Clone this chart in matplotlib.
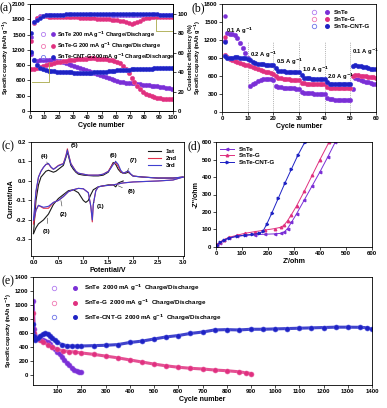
import numpy as np
import matplotlib
matplotlib.use("Agg")
import matplotlib.pyplot as plt
from matplotlib.legend_handler import HandlerTuple
from matplotlib.lines import Line2D

plt.rcParams['font.family'] = ['Liberation Sans', 'DejaVu Sans']
plt.rcParams['font.weight'] = 'bold'
plt.rcParams['axes.linewidth'] = 0.6

# ---------------- data ----------------
materials = ["SnTe", "SnTe-G", "SnTe-CNT-G"]
col_fill = ["#7A2FD6", "#E0307F", "#1E22C4"]
col_open = ["#B27CF0", "#F07AB4", "#6E74E8"]

# (a) cycling at 200 mA/g, every second cycle
a_cycles = list(range(1, 100, 2))
a_snte = [1120, 1000, 990, 1000, 1000, 1005, 1010, 1005, 1000, 990, 975, 960, 940, 920, 900,
          880, 860, 840, 820, 800, 780, 760, 740, 720, 700, 680, 660, 640, 620, 600,
          585, 575, 565, 558, 550, 545, 540, 535, 528, 520, 512, 505, 498, 490, 482,
          475, 465, 455, 445, 435]
a_sntg = [820, 830, 850, 870, 885, 900, 915, 930, 945, 955, 965, 975, 985, 995, 1000,
          1010, 1015, 1020, 1025, 1030, 1035, 1035, 1035, 1030, 1030, 1025, 1020, 1010, 1000, 990,
          970, 940, 890, 820, 740, 650, 570, 500, 440, 380, 340, 310, 290, 275, 262,
          252, 245, 240, 235, 232]
a_cnt = [1150, 1000, 900, 850, 820, 800, 790, 785, 780, 775, 770, 768, 765, 762, 760,
         755, 750, 748, 745, 745, 748, 752, 756, 760, 765, 770, 775, 780, 785, 790,
         795, 800, 805, 808, 812, 815, 818, 820, 822, 825, 828, 830, 832, 835, 838,
         840, 842, 845, 848, 850]
a_ce_snte = [76, 92, 96, 97.5, 98, 98.5, 98.5, 99, 99, 99, 99, 99, 99, 99, 99,
             99, 99, 99, 99, 99, 99, 99, 99, 99, 99, 99, 99, 99, 99, 99,
             99, 99, 99, 99, 99, 99, 99, 99, 99, 99, 99, 99, 99, 99, 99,
             99, 99, 99, 99, 99]
a_ce_sntg = [72, 90, 96, 97, 97.5, 97.5, 97, 97, 97, 97, 97, 97, 97, 97, 96.5,
             96.5, 96.5, 96, 96, 96, 96, 95.5, 95.5, 95, 95, 95, 95, 94.5, 94, 94,
             93.5, 93, 92.5, 91.5, 90.5, 89.5, 90, 91.5, 93, 94.5, 95.5, 96, 96.5, 96.5, 97,
             97, 97, 97, 97, 97]
a_ce_cnt = [80, 91, 94, 96, 97.5, 98.5, 99, 99, 99, 99, 99, 99, 99.5, 99.5, 99.5,
            99.5, 99.5, 99.5, 99.5, 99.5, 99.5, 99.5, 99.5, 99.5, 99.5, 99.5, 99.5, 99.5, 99.5, 99.5,
            99.5, 99.5, 99.5, 99.5, 99.5, 99.5, 99.5, 99.5, 99.5, 99.5, 99.5, 99.5, 99.5, 99.5, 99.5,
            99, 99, 99, 99, 99]

# (b) rate performance
b_cycles = list(range(1, 61))
b_snte = [1180, 1310, 1300, 1300, 1280, 1230, 1150, 1060, 980, 900,
          440, 460, 490, 510, 530, 545, 550, 552, 548, 540,
          430, 415, 410, 405, 400, 398, 395, 392, 390, 385,
          330, 318, 315, 312, 310, 308, 306, 305, 303, 300,
          240, 215, 210, 208, 206, 205, 204, 203, 202, 200,
          380, 560, 545, 530, 515, 505, 495, 485, 475, 465]
b_sntg = [950, 910, 890, 870, 850, 830, 815, 800, 790, 780,
          760, 745, 730, 715, 700, 690, 675, 665, 650, 640,
          600, 570, 560, 555, 550, 545, 540, 538, 535, 530,
          490, 480, 475, 472, 470, 468, 465, 463, 462, 460,
          420, 405, 402, 400, 400, 400, 400, 400, 400, 400,
          600, 620, 615, 605, 600, 595, 590, 585, 580, 575]
b_cnt = [930, 900, 900, 905, 910, 910, 905, 900, 895, 885,
         870, 830, 815, 805, 800, 795, 790, 785, 782, 780,
         730, 690, 680, 678, 675, 673, 672, 671, 670, 668,
         610, 575, 565, 560, 558, 556, 555, 553, 552, 550,
         500, 470, 462, 460, 460, 460, 460, 460, 460, 460,
         760, 780, 775, 765, 755, 745, 735, 725, 718, 710]
b_first_discharge = [1600, 1250, 1170]
b_rates = ["0.1 A g$^{-1}$", "0.2 A g$^{-1}$", "0.5 A g$^{-1}$", "1.0 A g$^{-1}$", "2.0 A g$^{-1}$", "0.1 A g$^{-1}$"]

# (c) cyclic voltammetry
cv_up_v = [0.0, 0.05, 0.1, 0.15, 0.2, 0.25, 0.3, 0.35, 0.4, 0.45, 0.5, 0.55, 0.6, 0.65, 0.68, 0.7,
           0.75, 0.8, 0.85, 0.9, 1.0, 1.1, 1.2, 1.3, 1.4, 1.5, 1.55, 1.6, 1.65, 1.7, 1.75, 1.8,
           1.85, 1.9, 1.95, 2.0, 2.2, 2.5, 2.8, 3.0]
cv_up_1 = [-0.27, -0.1, -0.02, 0.02, 0.035, 0.05, 0.055, 0.05, 0.045, 0.05, 0.06, 0.07, 0.08, 0.12, 0.15, 0.13,
           0.08, 0.06, 0.045, 0.035, 0.03, 0.028, 0.026, 0.026, 0.03, 0.045, 0.07, 0.095, 0.085, 0.06, 0.045, 0.04,
           0.04, 0.045, 0.035, 0.025, 0.02, 0.015, 0.015, 0.02]
cv_up_2 = [-0.22, -0.06, 0.02, 0.05, 0.07, 0.085, 0.088, 0.07, 0.06, 0.07, 0.08, 0.085, 0.09, 0.13, 0.165, 0.14,
           0.09, 0.07, 0.05, 0.04, 0.035, 0.03, 0.03, 0.03, 0.035, 0.05, 0.07, 0.09, 0.095, 0.075, 0.05, 0.04,
           0.045, 0.05, 0.035, 0.025, 0.02, 0.015, 0.015, 0.02]
cv_up_3 = [-0.2, -0.05, 0.02, 0.05, 0.07, 0.085, 0.09, 0.072, 0.06, 0.068, 0.078, 0.083, 0.088, 0.125, 0.158, 0.138,
           0.088, 0.068, 0.05, 0.04, 0.035, 0.03, 0.03, 0.03, 0.035, 0.048, 0.065, 0.085, 0.1, 0.085, 0.055, 0.04,
           0.045, 0.052, 0.036, 0.025, 0.02, 0.015, 0.015, 0.02]
cv_dn_v = [3.0, 2.8, 2.5, 2.0, 1.8, 1.6, 1.4, 1.3, 1.25, 1.2, 1.18, 1.15, 1.1, 1.0, 0.9, 0.8,
           0.7, 0.6, 0.5, 0.4, 0.3, 0.2, 0.1, 0.05, 0.0]
cv_dn_2 = [0.02, 0.005, 0.0, -0.005, -0.01, -0.02, -0.025, -0.03, -0.05, -0.12, -0.21, -0.13, -0.06, -0.04, -0.038, -0.045,
           -0.055, -0.08, -0.1, -0.11, -0.14, -0.14, -0.125, -0.15, -0.22]
cv_dn_3 = [0.02, 0.005, 0.0, -0.005, -0.01, -0.02, -0.025, -0.03, -0.05, -0.12, -0.2, -0.13, -0.06, -0.04, -0.038, -0.045,
           -0.055, -0.08, -0.1, -0.11, -0.13, -0.135, -0.125, -0.15, -0.2]
cv_dn1_v = [1.8, 1.7, 1.65, 1.6, 1.5, 1.4, 1.3, 1.2, 1.15, 1.1, 1.05, 1.0, 0.95, 0.9, 0.8, 0.7, 0.6, 0.5,
            0.4, 0.3, 0.2, 0.1, 0.05, 0.0]
cv_dn_1 = [0.0, -0.01, -0.03, -0.02, -0.02, -0.025, -0.03, -0.045, -0.07, -0.1, -0.11, -0.1, -0.08, -0.06, -0.045, -0.05,
           -0.07, -0.09, -0.12, -0.17, -0.2, -0.22, -0.24, -0.27]
cv_labels = ["1st", "2nd", "3rd"]
cv_colors = ["#1a1a1a", "#E0304A", "#4040D0"]

# (d) Nyquist plots
d_snte_x = [0, 5, 15, 30, 50, 80, 110, 150, 190, 225, 250, 262, 275, 290, 310, 340, 370, 400, 430, 459]
d_snte_y = [0, 12, 25, 38, 50, 60, 66, 70, 73, 75, 78, 85, 105, 140, 190, 270, 350, 430, 515, 600]
d_sntg_x = [0, 5, 15, 30, 50, 80, 110, 150, 190, 225, 250, 262, 275, 290, 310, 340, 370, 400, 435]
d_sntg_y = [0, 15, 28, 42, 55, 67, 78, 88, 97, 105, 113, 125, 150, 185, 235, 320, 410, 500, 600]
d_cnt_x = [0, 5, 15, 30, 50, 80, 110, 140, 165, 180, 195, 215, 240, 265, 290, 315, 342]
d_cnt_y = [0, 12, 26, 40, 52, 62, 68, 72, 78, 89, 130, 195, 280, 365, 445, 525, 600]

# (e) long cycling at 2000 mA/g
e_snte_x = [1, 5, 10, 20, 30, 40, 50, 60, 70, 80, 90, 100, 110, 120, 130, 140, 150, 160, 170, 180, 190, 200]
e_snte_y = [1060, 650, 560, 520, 510, 500, 485, 460, 435, 400, 370, 330, 290, 250, 210, 170, 135, 100, 70, 50, 38, 30]
e_sntg_x = [1, 5, 10, 20, 30, 40, 60, 80, 100, 125, 150, 175, 200, 250, 300, 350, 400, 450, 500, 550,
            600, 650, 700, 750, 800, 850, 880, 900]
e_sntg_y = [880, 600, 540, 510, 490, 470, 430, 390, 360, 340, 330, 322, 310, 290, 265, 240, 210, 180, 150, 125,
            105, 90, 80, 65, 55, 40, 25, 15]
e_cnt_x = [1, 5, 10, 20, 30, 40, 50, 60, 70, 80, 90, 100, 120, 140, 160, 180, 200, 250, 300, 350,
           400, 450, 500, 550, 600, 650, 700, 750, 800, 850, 900, 950, 1000, 1050, 1100, 1150, 1200,
           1250, 1300, 1350, 1380, 1400]
e_cnt_y = [720, 550, 500, 520, 560, 580, 590, 575, 550, 520, 490, 460, 430, 415, 408, 410, 410, 415, 420, 430,
           460, 480, 510, 540, 560, 590, 610, 640, 645, 640, 650, 650, 655, 660, 665, 670, 675,
           680, 680, 678, 672, 650]

# ---------------- figure ----------------
W, H = 387, 408
fig = plt.figure(figsize=(W / 100, H / 100), dpi=100)


def rect(l, t, r, b):
    return [l / W, 1 - b / H, (r - l) / W, (b - t) / H]


TFS = 4.3
LFS = 5.0
YFS = 4.0


def style(ax):
    ax.tick_params(labelsize=TFS, width=0.5, length=2, direction='out', pad=1.2)
    for lab in ax.get_xticklabels() + ax.get_yticklabels():
        lab.set_fontweight('bold')


def panel_label(x, y, s):
    fig.text(x / W, 1 - y / H, s, fontsize=8.5, family=['Liberation Serif', 'DejaVu Serif'],
             fontweight='normal', va='top', ha='left')


def open_fill_handle(i, ms=3.2):
    h1 = Line2D([], [], ls='none', marker='o', mfc='none', mec=col_open[i], mew=0.6, ms=ms)
    h2 = Line2D([], [], ls='none', marker='o', mfc=col_fill[i], mec=col_fill[i], ms=ms * 0.8)
    return (h1, h2)


# ---- (a)
ax = fig.add_axes(rect(30, 4, 173, 111))
a_caps = [a_snte, a_sntg, a_cnt]
a_ces = [a_ce_snte, a_ce_sntg, a_ce_cnt]
ax2 = ax.twinx()
for i in range(3):
    ax.plot(a_cycles, a_caps[i], ls='none', marker='o', mfc='none', mec=col_open[i], mew=0.5, ms=3.2)
    ax.plot(a_cycles, a_caps[i], ls='none', marker='o', color=col_fill[i], ms=2.2)
    ax2.plot(a_cycles, a_ces[i], ls='none', marker='o', mfc='none', mec=col_open[i], mew=0.5, ms=3.0)
    ax2.plot(a_cycles, a_ces[i], ls='none', marker='o', color=col_fill[i], ms=2.0)
ax.set_xlim(0, 100)
ax.set_ylim(0, 2100)
ax.set_xticks(range(0, 101, 10))
ax.set_yticks(range(0, 2101, 300))
ax2.set_ylim(0, 110)
ax2.set_yticks(range(0, 101, 20))
ax.set_xlabel("Cycle number", fontsize=LFS, fontweight='bold', labelpad=1.2)
ax.set_ylabel("Specific capacity (mAh g$^{-1}$)", fontsize=YFS, fontweight='bold', labelpad=1.0)
ax2.set_ylabel("Coulombic efficiency (%)", fontsize=YFS, fontweight='bold', labelpad=0.5)
style(ax)
style(ax2)
ax.plot([13, 13, 1.5], [950, 560, 560], color='#A8A848', lw=0.6)
ax2.plot([88, 88, 99.5], [94.5, 82.5, 82.5], color='#A8A848', lw=0.6)
handles = [open_fill_handle(i, 3.0) for i in range(3)]
labels = [f"{m} 200 mA g$^{{-1}}$ Charge/Discharge" for m in materials]
ax.legend(handles, labels, handler_map={tuple: HandlerTuple(ndivide=None, pad=1.2)},
          loc='upper left', bbox_to_anchor=(0.05, 0.8), frameon=False,
          handlelength=2.3, handletextpad=0.5, labelspacing=0.15, borderpad=0.2,
          prop={'weight': 'bold', 'size': 4.1})
panel_label(0, 2, "(a)")

# ---- (b)
ax = fig.add_axes(rect(222, 4, 376, 112))
b_caps = [b_snte, b_sntg, b_cnt]
for x in [10, 20, 30, 40, 50]:
    ax.plot([x, x], [0, 1160], ls=(0, (1.5, 1.5)), color='#999999', lw=0.5)
for i in range(3):
    ax.plot(b_cycles, b_caps[i], ls='none', marker='o', mfc='none', mec=col_open[i], mew=0.5, ms=3.2)
    ax.plot(b_cycles, b_caps[i], ls='none', marker='o', color=col_fill[i], ms=2.2)
    ax.plot([1], [b_first_discharge[i]], ls='none', marker='o', color=col_fill[i], ms=2.2)
ax.set_xlim(0, 60)
ax.set_ylim(0, 1800)
ax.set_xticks(range(0, 61, 10))
ax.set_yticks(range(0, 1801, 300))
ax.set_xlabel("Cycle number", fontsize=LFS, fontweight='bold', labelpad=1.2)
ax.set_ylabel("Specific capacity (mAh g$^{-1}$)", fontsize=YFS, fontweight='bold', labelpad=1.0)
style(ax)
rate_pos = [(1.5, 1360), (11, 950), (21, 830), (31, 710), (41, 580), (50.5, 1010)]
for (x, y), s in zip(rate_pos, b_rates):
    ax.text(x, y, s, fontsize=4.2, fontweight='bold', ha='left', va='center')
handles = [open_fill_handle(i) for i in range(3)]
ax.legend(handles, materials, handler_map={tuple: HandlerTuple(ndivide=None, pad=1.5)},
          loc='upper right', bbox_to_anchor=(0.99, 0.99), frameon=False,
          handlelength=2.6, handletextpad=0.8, labelspacing=0.3, borderpad=0.2,
          prop={'weight': 'bold', 'size': 4.5})
panel_label(191, 2, "(b)")

# ---- (c)
ax = fig.add_axes(rect(31, 142, 184, 256))
ups = [cv_up_1, cv_up_2, cv_up_3]
dns = [cv_dn_1, cv_dn_2, cv_dn_3]
dn_vs = [cv_dn1_v, cv_dn_v, cv_dn_v]
for i in range(3):
    ax.plot(cv_up_v, ups[i], color=cv_colors[i], lw=0.8, label=cv_labels[i])
    ax.plot(dn_vs[i], dns[i], color=cv_colors[i], lw=0.8)
ax.set_xlim(-0.05, 3.02)
ax.set_ylim(-0.385, 0.2)
ax.set_xticks(np.arange(0, 3.01, 0.5))
ax.set_xticklabels([f"{v:.1f}" for v in np.arange(0, 3.01, 0.5)])
ax.set_yticks([-0.3, -0.2, -0.1, 0.0, 0.1, 0.2])
ax.set_yticklabels(["-0.3", "-0.2", "-0.1", "0.0", "0.1", "0.2"])
ax.set_xlabel("Potential/V", fontsize=LFS, fontweight='bold', labelpad=1.2)
ax.set_ylabel("Current/mA", fontsize=LFS, fontweight='bold', labelpad=1.2)
style(ax)
ann = [("(1)", (1.2, -0.11), (1.35, -0.13)),
       ("(2)", (0.55, -0.1), (0.6, -0.17)),
       ("(3)", (0.28, -0.19), (0.27, -0.26)),
       ("(4)", (0.28, 0.09), (0.22, 0.125)),
       ("(5)", (0.68, 0.16), (0.82, 0.18)),
       ("(6)", (1.65, 0.1), (1.6, 0.13)),
       ("(7)", (1.88, 0.05), (2.0, 0.105)),
       ("(8)", (1.7, -0.025), (1.97, -0.055))]
for s, xy, xt in ann:
    ax.annotate(s, xy=xy, xytext=xt, fontsize=4.5, fontweight='bold', ha='center', va='center',
                arrowprops=dict(arrowstyle='-', lw=0.4, color='#333333', shrinkA=2, shrinkB=0))
ax.legend(loc='upper right', bbox_to_anchor=(0.99, 0.99), frameon=False, handlelength=2.0,
          labelspacing=0.25, prop={'weight': 'bold', 'size': 4.5})
panel_label(1, 140, "(c)")

# ---- (d)
ax = fig.add_axes(rect(216, 142, 372, 247))
dx = [d_snte_x, d_sntg_x, d_cnt_x]
dy = [d_snte_y, d_sntg_y, d_cnt_y]
mk = ['<', '^', '>']
for i in range(3):
    ax.plot(dx[i], dy[i], color=col_fill[i], lw=0.7, marker=mk[i], ms=1.8, label=materials[i])
ax.set_xlim(0, 600)
ax.set_ylim(0, 600)
ax.set_xticks(range(0, 601, 100))
ax.set_yticks(range(0, 601, 100))
ax.set_xlabel("Z'/ohm", fontsize=LFS, fontweight='bold', labelpad=1.2)
ax.set_ylabel("-Z''/ohm", fontsize=LFS, fontweight='bold', labelpad=1.2)
style(ax)
ax.legend(loc='upper left', bbox_to_anchor=(0.0, 1.0), frameon=False, handlelength=2.2,
          labelspacing=0.2, borderpad=0.2, prop={'weight': 'bold', 'size': 4.5})
panel_label(187, 140, "(d)")

# ---- (e)
ax = fig.add_axes(rect(33, 277, 372, 385))
ex = [e_snte_x, e_sntg_x, e_cnt_x]
ey = [e_snte_y, e_sntg_y, e_cnt_y]
for i in range(3):
    ax.plot(ex[i], ey[i], color=col_fill[i], lw=2.2, alpha=0.85, solid_capstyle='round')
    ax.plot(ex[i], ey[i], ls='none', marker='o', mfc='none', mec=col_open[i], mew=0.5, ms=3.6)
    ax.plot(ex[i], ey[i], ls='none', marker='o', color=col_fill[i], ms=2.4)
ax.set_xlim(0, 1400)
ax.set_ylim(-150, 1400)
ax.set_xticks(range(100, 1401, 100))
ax.set_yticks(range(0, 1401, 200))
ax.set_xlabel("Cycle number", fontsize=LFS, fontweight='bold', labelpad=1.2)
ax.set_ylabel("Specific capacity (mAh g$^{-1}$)", fontsize=YFS, fontweight='bold', labelpad=1.0)
style(ax)
handles = [open_fill_handle(i) for i in range(3)]
labels = [f"{m}  2000 mA g$^{{-1}}$  Charge/Discharge" for m in materials]
ax.legend(handles, labels, handler_map={tuple: HandlerTuple(ndivide=None, pad=3.0)},
          loc='upper left', bbox_to_anchor=(0.045, 0.985), frameon=False,
          handlelength=3.8, handletextpad=1.2, labelspacing=0.7, borderpad=0.2,
          prop={'weight': 'bold', 'size': 4.5})
panel_label(1, 275, "(e)")

fig.savefig("out.png", dpi=100)
